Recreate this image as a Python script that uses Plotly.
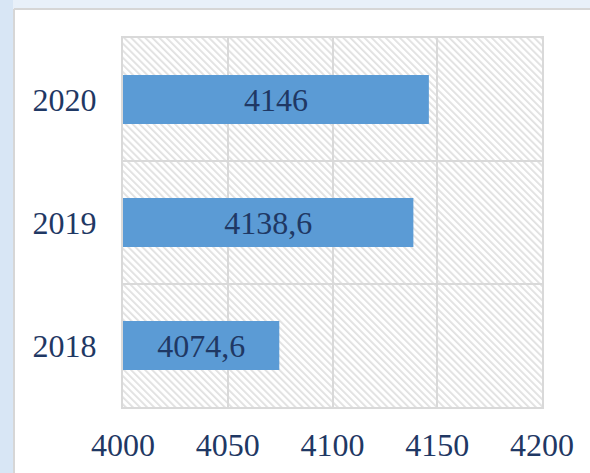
import base64
import plotly.graph_objects as go

# данные
years = ['2018', '2019', '2020']
values = [4074.6, 4138.6, 4146]
x_ticks = [4000, 4050, 4100, 4150, 4200]

AXIS_MIN = x_ticks[0]
AXIS_MAX = x_ticks[-1]

FONT = 'Liberation Serif'
TEXT_COLOR = '#1F3864'
GRID = '#d9d9d9'

labels = [f'{v:g}'.replace('.', ',') for v in values]

# hatched plot background (diagonal lines like in Excel)
svg = (
    "<svg xmlns='http://www.w3.org/2000/svg' width='419' height='369'>"
    "<defs><pattern id='p' width='5' height='5' patternUnits='userSpaceOnUse' "
    "patternTransform='rotate(-45)'>"
    "<rect width='1.8' height='5' fill='#e0e0e0'/></pattern></defs>"
    "<rect width='100%' height='100%' fill='white'/>"
    "<rect width='100%' height='100%' fill='url(#p)'/></svg>"
)
hatch_src = 'data:image/svg+xml;base64,' + base64.b64encode(svg.encode()).decode()

fig = go.Figure(go.Bar(
    y=years,
    x=[v - AXIS_MIN for v in values],
    base=AXIS_MIN,
    orientation='h',
    marker=dict(color='#5B9BD5', line=dict(width=0)),
    text=labels,
    textposition='inside',
    insidetextanchor='middle',
    textangle=0,
    insidetextfont=dict(family=FONT, size=32, color=TEXT_COLOR),
    hoverinfo='skip',
))

fig.update_layout(
    width=590,
    height=473,
    margin=dict(l=123, r=48, t=38, b=66),
    paper_bgcolor='white',
    plot_bgcolor='rgba(0,0,0,0)',
    bargap=0.6,
    showlegend=False,
    font=dict(family=FONT, size=32, color=TEXT_COLOR),
    images=[dict(
        source=hatch_src, xref='paper', yref='paper', x=0, y=1,
        sizex=1, sizey=1, xanchor='left', yanchor='top',
        sizing='stretch', layer='below',
    )],
    xaxis=dict(
        range=[AXIS_MIN, AXIS_MAX],
        tickvals=x_ticks,
        showgrid=True, gridcolor=GRID, gridwidth=1.5,
        showline=True, linecolor=GRID, linewidth=2, mirror=True,
        zeroline=False, ticks='',
        ticklabelstandoff=9,
        automargin=False,
        tickfont=dict(family=FONT, size=32, color=TEXT_COLOR),
    ),
    yaxis=dict(
        type='category',
        tickson='boundaries',
        showgrid=True, gridcolor=GRID, gridwidth=1.5,
        showline=True, linecolor=GRID, linewidth=2, mirror=True,
        ticks='',
        ticklabelstandoff=18,
        automargin=False,
        tickfont=dict(family=FONT, size=32, color=TEXT_COLOR),
    ),
)

# светло-голубой фон слайда вокруг белой панели
fig.add_shape(type='rect', xref='paper', yref='paper',
              x0=-0.5, x1=1.5, y0=1.0786, y1=1.3,
              fillcolor='#e8f0f9', line_width=0, layer='below')
fig.add_shape(type='rect', xref='paper', yref='paper',
              x0=-0.5, x1=-0.2625, y0=-0.4, y1=1.3,
              fillcolor='#d8e6f5', line_width=0, layer='below')
fig.add_shape(type='line', xref='paper', yref='paper',
              x0=-0.2601, x1=1.5, y0=1.0786, y1=1.0786,
              line=dict(color='#d6d6d6', width=2), layer='below')
fig.add_shape(type='line', xref='paper', yref='paper',
              x0=-0.2601, x1=-0.2601, y0=-0.4, y1=1.0786,
              line=dict(color='#d6d6d6', width=2), layer='below')

# убираем отступ body, чтобы фигура начиналась с (0, 0)
fig.write_html('out.html', config={'displayModeBar': False},
               post_script="document.body.style.margin='0';")
